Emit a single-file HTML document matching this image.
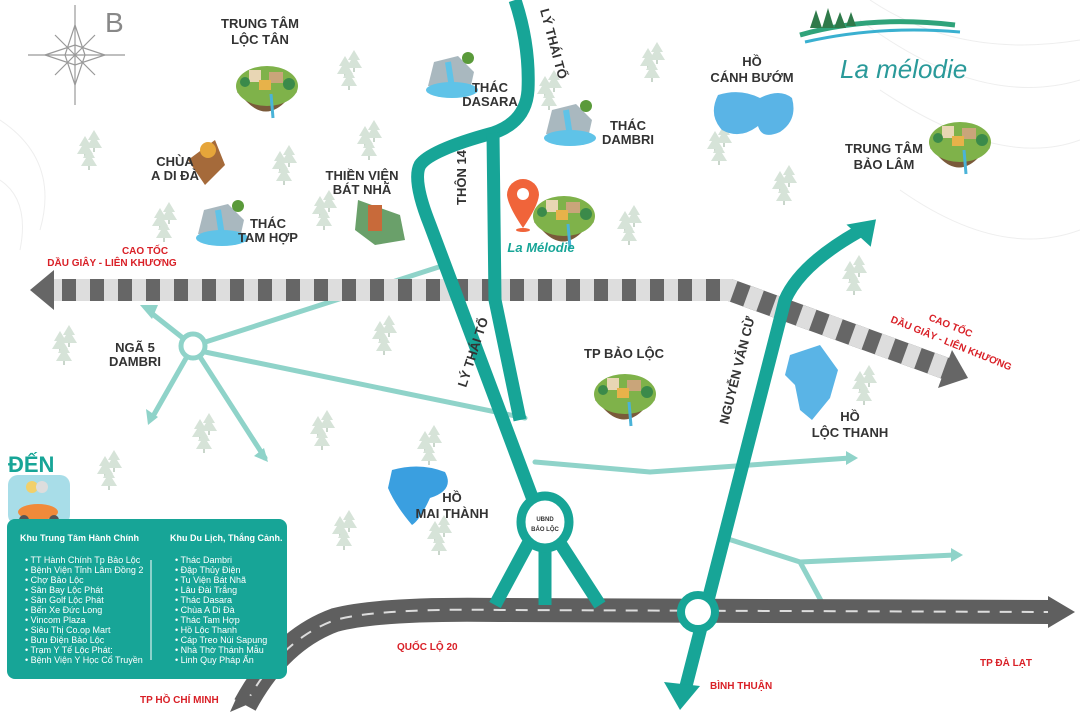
<!DOCTYPE html>
<html><head><meta charset="utf-8"><style>
html,body{margin:0;padding:0;background:#fff;}
svg{display:block;}
text{font-family:"Liberation Sans",Arial,sans-serif;}
.lb{font-weight:bold;fill:#333;font-size:13px;}
.red{font-weight:bold;fill:#d92027;font-size:10px;}
.lg{fill:#fff;font-size:9px;}
</style></head><body>
<svg width="1080" height="720" viewBox="0 0 1080 720" xmlns="http://www.w3.org/2000/svg">
<defs>
<g id="tree"><path d="M0,-14 L6,-4 L3,-4 L8,4 L-8,4 L-3,-4 L-6,-4Z" fill="#d6e3d8"/><rect x="-1" y="4" width="2" height="4" fill="#c9d6cb"/></g>
<g id="trees"><use href="#tree" x="0" y="0"/><use href="#tree" x="9" y="-6"/><use href="#tree" x="4" y="12"/></g>
<g id="isl"><path d="M-30,0 Q0,-38 30,0 L20,8 Q0,30 -20,10Z" fill="#7a5a3a"/><ellipse cx="0" cy="-6" rx="31" ry="20" fill="#7fb24a"/><rect x="-18" y="-22" width="12" height="12" fill="#e8d6b4"/><rect x="2" y="-20" width="14" height="11" fill="#c9a57a"/><rect x="-8" y="-12" width="12" height="10" fill="#e7b24a"/><circle cx="-22" cy="-10" r="5" fill="#3b8a4a"/><circle cx="22" cy="-8" r="6" fill="#3b8a4a"/><path d="M4,2 L6,26" stroke="#4ab3d8" stroke-width="3"/></g>
<g id="fall"><path d="M-24,6 L-18,-18 L6,-24 L22,-8 L18,10 Z" fill="#a9b8bf"/><path d="M-4,-18 L0,8" stroke="#5fc3e8" stroke-width="6"/><ellipse cx="0" cy="10" rx="26" ry="8" fill="#5fc3e8"/><circle cx="16" cy="-22" r="6" fill="#5a9a3a"/></g>
</defs>
<g fill="none" stroke="#eeeeee" stroke-width="1">
<path d="M870,0 Q960,60 1080,40"/><path d="M860,20 Q980,110 1080,80"/><path d="M880,90 Q1000,170 1080,140"/><path d="M900,190 Q1000,260 1080,230"/>
<path d="M0,120 Q60,160 40,230"/><path d="M0,180 Q30,200 20,250"/>
</g>
<g>
<use href="#trees" x="345" y="70"/><use href="#trees" x="648" y="62"/><use href="#trees" x="715" y="145"/><use href="#trees" x="780" y="185"/>
<use href="#trees" x="85" y="150"/><use href="#trees" x="280" y="165"/><use href="#trees" x="365" y="140"/><use href="#trees" x="160" y="222"/>
<use href="#trees" x="320" y="210"/><use href="#trees" x="625" y="225"/><use href="#trees" x="850" y="275"/><use href="#trees" x="60" y="345"/>
<use href="#trees" x="380" y="335"/><use href="#trees" x="200" y="433"/><use href="#trees" x="318" y="430"/><use href="#trees" x="425" y="445"/>
<use href="#trees" x="105" y="470"/><use href="#trees" x="340" y="530"/><use href="#trees" x="435" y="535"/><use href="#trees" x="860" y="385"/>
<use href="#trees" x="545" y="90"/>
</g>
<g stroke="#999" fill="none" stroke-width="1.2">
<path d="M28,55 L125,55"/><path d="M75,5 L75,105"/><path d="M75,25 L85,55 L75,85 L65,55Z"/><path d="M45,55 L75,45 L105,55 L75,65Z"/><path d="M55,35 L95,75 M95,35 L55,75"/>
</g>
<text x="105" y="32" font-size="28" fill="#888">B</text>
<path d="M800,35 Q870,15 955,25" stroke="#2fa37a" stroke-width="5" fill="none"/>
<path d="M805,42 Q880,25 960,32" stroke="#3ab0d0" stroke-width="3" fill="none"/>
<g fill="#2f7a4a"><path d="M810,28 l6,-18 l6,18z"/><path d="M822,28 l6,-20 l6,20z"/><path d="M834,28 l6,-16 l6,16z"/><path d="M846,26 l5,-14 l5,14z"/></g>
<text x="840" y="78" font-size="26" font-style="italic" fill="#2a9a9a" font-family="Liberation Serif,serif">La mélodie</text>
<path d="M718,95 Q740,88 760,98 Q780,88 792,98 Q798,120 780,132 Q762,140 758,126 Q740,140 722,130 Q708,115 718,95Z" fill="#5ab4e6"/>
<path d="M392,470 Q420,462 445,472 Q455,490 430,498 Q420,520 412,525 Q395,505 388,488Z" fill="#3a9fe0"/>
<path d="M790,355 L820,345 L838,370 L830,398 L812,420 L800,410 L795,385 L785,375Z" fill="#5ab4e6"/>
<g stroke="#8fd3c9" stroke-width="5" fill="none" stroke-linecap="round">
<path d="M193,346 L150,312"/><path d="M193,346 L152,418"/><path d="M193,346 L265,458"/><path d="M193,346 L445,265"/><path d="M205,352 L525,418"/>
<path d="M535,462 L650,472 L850,458"/><path d="M725,538 L800,562 L825,608"/><path d="M800,562 L955,555"/>
</g>
<g fill="#8fd3c9"><path d="M140,305 l18,0 l-6,14z"/><path d="M148,425 l-2,-16 l12,8z"/><path d="M268,462 l-14,-6 l10,-8z"/><path d="M858,458 l-12,-7 l0,14z"/><path d="M963,555 l-12,-7 l0,14z"/></g>
<g fill="none" stroke-width="22">
<path d="M48,290 L730,290 L950,370" stroke="#666"/>
<path d="M48,290 L730,290 L950,370" stroke="#ddd" stroke-dasharray="14,14"/>
</g>
<path d="M30,290 L54,270 L54,310Z" fill="#666"/>
<path d="M968,378 L938,388 L952,350Z" fill="#666"/>
<path d="M245,705 Q280,640 335,620 Q380,608 500,610 L1050,612" stroke="#5f5f5f" stroke-width="24" fill="none"/>
<path d="M245,705 Q280,640 335,620 Q380,608 500,610 L1050,612" stroke="#ddd" stroke-width="2" stroke-dasharray="12,10" fill="none"/>
<path d="M1075,612 L1048,596 L1048,628Z" fill="#5f5f5f"/>
<path d="M230,712 L240,690 L258,700Z" fill="#5f5f5f"/>
<g stroke="#17a597" stroke-width="13" fill="none" stroke-linejoin="round">
<path d="M515,0 Q530,45 528,90 Q526,122 493,133 Q430,150 420,165 Q412,180 430,225 L535,505"/>
<path d="M493,133 L495,300 L520,420"/>
<path d="M530,540 L495,605"/><path d="M545,545 L545,605"/><path d="M558,540 L600,605"/>
<path d="M858,232 Q800,265 785,300 L685,690"/>
</g>
<path d="M878,222 L848,222 L868,248Z" fill="#17a597" transform="rotate(-10 862 232)"/>
<path d="M680,710 L664,682 L700,686Z" fill="#17a597"/>
<ellipse cx="545" cy="522" rx="24" ry="26" fill="#fff" stroke="#17a597" stroke-width="9"/>
<circle cx="698" cy="612" r="17" fill="#fff" stroke="#17a597" stroke-width="8"/>
<circle cx="193" cy="346" r="12" fill="#fff" stroke="#8fd3c9" stroke-width="5"/>
<text x="545" y="521" font-size="6" font-weight="bold" text-anchor="middle" fill="#333">UBND</text>
<text x="545" y="531" font-size="6" font-weight="bold" text-anchor="middle" fill="#333">BẢO LỘC</text>
<use href="#isl" x="267" y="92"/><use href="#isl" x="960" y="148"/><use href="#isl" x="564" y="222"/><use href="#isl" x="625" y="400"/>
<use href="#fall" x="452" y="80"/><use href="#fall" x="570" y="128"/><use href="#fall" x="222" y="228"/>
<path d="M188,160 L215,140 L225,165 L205,185 Z" fill="#a56a3a"/><circle cx="208" cy="150" r="8" fill="#e6a53a"/>
<path d="M358,200 L400,215 L405,240 L375,245 L355,230Z" fill="#6aa06a"/><rect x="368" y="205" width="14" height="26" fill="#c86a3a"/>
<path d="M523,228 Q508,206 507,195 A16,16 0 1,1 539,195 Q538,206 523,228Z" fill="#f0643a"/><circle cx="523" cy="194" r="6" fill="#fff"/>
<ellipse cx="523" cy="230" rx="7" ry="2" fill="#f0643a"/>
<text class="lb" x="260" y="28" text-anchor="middle">TRUNG TÂM</text><text class="lb" x="260" y="44" text-anchor="middle">LỘC TÂN</text>
<text class="lb" x="175" y="166" text-anchor="middle" font-size="11">CHÙA</text><text class="lb" x="175" y="180" text-anchor="middle" font-size="11">A DI ĐÀ</text>
<text class="lb" x="268" y="228" text-anchor="middle" font-size="11">THÁC</text><text class="lb" x="268" y="242" text-anchor="middle" font-size="11">TAM HỢP</text>
<text class="lb" x="362" y="180" text-anchor="middle" font-size="11">THIỀN VIỆN</text><text class="lb" x="362" y="194" text-anchor="middle" font-size="11">BÁT NHÃ</text>
<text class="lb" x="490" y="92" text-anchor="middle" font-size="11">THÁC</text><text class="lb" x="490" y="106" text-anchor="middle" font-size="11">DASARA</text>
<text class="lb" x="628" y="130" text-anchor="middle" font-size="11">THÁC</text><text class="lb" x="628" y="144" text-anchor="middle" font-size="11">DAMBRI</text>
<text class="lb" x="752" y="66" text-anchor="middle">HỒ</text><text class="lb" x="752" y="82" text-anchor="middle">CÁNH BƯỚM</text>
<text class="lb" x="884" y="153" text-anchor="middle">TRUNG TÂM</text><text class="lb" x="884" y="169" text-anchor="middle">BẢO LÂM</text>
<text x="541" y="252" text-anchor="middle" font-size="13" font-weight="bold" font-style="italic" fill="#17a597">La Mélodie</text>
<text class="lb" x="624" y="358" text-anchor="middle">TP BẢO LỘC</text>
<text class="lb" x="850" y="421" text-anchor="middle">HỒ</text><text class="lb" x="850" y="437" text-anchor="middle">LỘC THANH</text>
<text class="lb" x="452" y="502" text-anchor="middle">HỒ</text><text class="lb" x="452" y="518" text-anchor="middle">MAI THÀNH</text>
<text class="lb" x="135" y="352" text-anchor="middle" font-size="10">NGÃ 5</text><text class="lb" x="135" y="366" text-anchor="middle" font-size="10">DAMBRI</text>
<text class="lb" font-size="10" transform="translate(466,205) rotate(-90)">THÔN 14</text>
<text class="lb" font-size="10" transform="translate(540,10) rotate(75)">LÝ THÁI TỔ</text>
<text class="lb" font-size="10" transform="translate(466,388) rotate(-72)">LÝ THÁI TỔ</text>
<text class="lb" font-size="10" transform="translate(728,425) rotate(-76)">NGUYỄN VĂN CỪ</text>
<text class="red" x="145" y="254" text-anchor="middle">CAO TỐC</text><text class="red" x="112" y="266" text-anchor="middle">DẦU GIÂY - LIÊN KHƯƠNG</text>
<text class="red" transform="translate(928,320) rotate(22)">CAO TỐC</text><text class="red" transform="translate(890,322) rotate(22)">DẦU GIÂY - LIÊN KHƯƠNG</text>
<text class="red" x="397" y="650">QUỐC LỘ 20</text>
<text class="red" x="140" y="703">TP HỒ CHÍ MINH</text>
<text class="red" x="710" y="689">BÌNH THUẬN</text>
<text class="red" x="980" y="666">TP ĐÀ LẠT</text>
<text x="8" y="472" font-size="22" font-weight="bold" fill="#17a597">ĐẾN</text>
<rect x="8" y="475" width="62" height="50" rx="10" fill="#a8dde8"/>
<ellipse cx="38" cy="512" rx="20" ry="8" fill="#f08a3a"/><circle cx="24" cy="520" r="5" fill="#555"/><circle cx="54" cy="520" r="5" fill="#555"/>
<circle cx="32" cy="487" r="6" fill="#f2d06a"/><circle cx="42" cy="487" r="6" fill="#ddd"/>
<rect x="7" y="519" width="280" height="160" rx="8" fill="#17a597"/>
<line x1="151" y1="560" x2="151" y2="660" stroke="#fff" stroke-width="1"/>
<text x="20" y="541" class="lg" font-weight="bold">Khu Trung Tâm Hành Chính</text>
<text x="170" y="541" class="lg" font-weight="bold">Khu Du Lịch, Thắng Cảnh.</text>
<g class="lg" font-size="8.5">
<text x="25" y="563">• TT Hành Chính Tp Bảo Lộc</text><text x="25" y="573">• Bệnh Viện Tỉnh Lâm Đồng 2</text><text x="25" y="583">• Chợ Bảo Lộc</text><text x="25" y="593">• Sân Bay Lộc Phát</text><text x="25" y="603">• Sân Golf Lộc Phát</text><text x="25" y="613">• Bến Xe Đức Long</text><text x="25" y="623">• Vincom Plaza</text><text x="25" y="633">• Siêu Thị Co.op Mart</text><text x="25" y="643">• Bưu Điện Bảo Lộc</text><text x="25" y="653">• Trạm Y Tế Lộc Phát:</text><text x="25" y="663">• Bệnh Viện Y Học Cổ Truyền</text>
<text x="175" y="563">• Thác Dambri</text><text x="175" y="573">• Đập Thủy Điện</text><text x="175" y="583">• Tu Viện Bát Nhã</text><text x="175" y="593">• Lâu Đài Trắng</text><text x="175" y="603">• Thác Dasara</text><text x="175" y="613">• Chùa A Di Đà</text><text x="175" y="623">• Thác Tam Hợp</text><text x="175" y="633">• Hồ Lộc Thanh</text><text x="175" y="643">• Cáp Treo Núi Sapung</text><text x="175" y="653">• Nhà Thờ Thánh Mẫu</text><text x="175" y="663">• Linh Quy Pháp Ấn</text>
</g>
</svg>
</body></html>
